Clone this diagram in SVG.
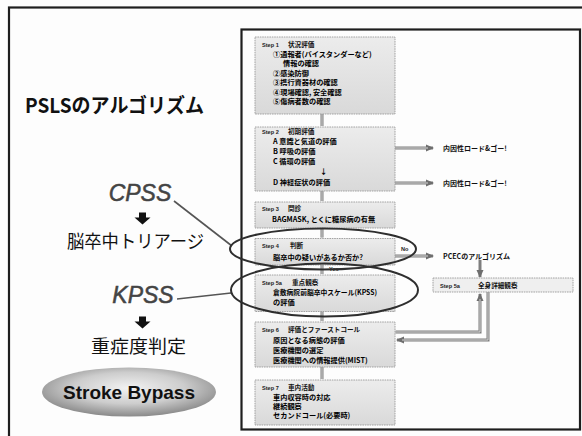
<svg xmlns="http://www.w3.org/2000/svg" width="582" height="436" viewBox="0 0 582 436">
<defs>
<style>
.frame{fill:none;stroke:#1e1e1e;stroke-width:2.2}
.box{fill:url(#boxg);stroke:#9a9a9a;stroke-width:0.9;stroke-dasharray:1.6 0.8}
.st{font-family:"Liberation Sans",Arial,sans-serif;font-size:5.6px;font-weight:bold;fill:#222}
.tt{font-family:"Noto Sans CJK JP","Noto Sans",sans-serif;font-size:6.6px;font-weight:bold;fill:#111}
.it{font-family:"Noto Sans CJK JP","Noto Sans",sans-serif;font-size:7.2px;font-weight:bold;fill:#000}
.lbl{font-family:"Noto Sans CJK JP","Liberation Sans",sans-serif;font-size:7px;font-weight:bold;fill:#111}
.con{fill:none;stroke:#7e7e7e;stroke-width:3}
.coni{fill:none;stroke:#d4d4d4;stroke-width:1}
.lead{fill:none;stroke:#555;stroke-width:1.6}
.ell{fill:none;stroke:#2e2e2e;stroke-width:2}
.big{font-family:"Noto Sans CJK JP","Liberation Sans",sans-serif;font-size:18px;fill:#111}
.abbr{font-family:"Liberation Sans",Arial,sans-serif;font-size:23px;font-style:italic;fill:#444;stroke:#444;stroke-width:0.5}
</style>
<linearGradient id="boxg" x1="0" y1="0" x2="0" y2="1">
<stop offset="0" stop-color="#ececec"/>
<stop offset="1" stop-color="#d9d9d9"/>
</linearGradient>
<radialGradient id="ellg" cx="50%" cy="42%" r="58%">
<stop offset="0" stop-color="#f2f2f2"/>
<stop offset="0.55" stop-color="#cdcdcd"/>
<stop offset="1" stop-color="#8a8a8a"/>
</radialGradient>
<marker id="ah" viewBox="0 0 8 8" refX="7" refY="4" markerWidth="8" markerHeight="8" markerUnits="userSpaceOnUse" orient="auto">
<path d="M0,0.5 L8,4 L0,7.5 z" fill="#6e6e6e"/>
</marker>
</defs>

<rect x="0" y="0" width="582" height="436" fill="#fdfdfd"/>
<rect class="frame" x="9" y="7.5" width="600" height="450"/>
<rect class="frame" x="241.5" y="29.5" width="338.5" height="400" fill="#ffffff"/>

<g id="title">
<text x="25" y="113" font-family="Noto Sans CJK JP,Liberation Sans,sans-serif" font-size="20" font-weight="bold" fill="#111" textLength="179" lengthAdjust="spacingAndGlyphs">PSLSのアルゴリズム</text>
</g>

<g id="connectors">
<path class="con" d="M322,114 V126 M322,191 V201 M322,228 V237.5 M322,265 V274 M322,311.5 V321 M322,367 V379"/>
<path class="coni" d="M322,114 V126 M322,191 V201 M322,228 V237.5 M322,265 V274 M322,311.5 V321 M322,367 V379"/>
<path d="M348,128 H352.5 V167 H348 M352.5,148 H356.5" fill="none" stroke="#555" stroke-width="1"/>
<path class="con" d="M362,148 H433" marker-end="url(#ah)"/>
<path class="coni" d="M362,148 H428"/>
<path class="con" d="M362,183 H433" marker-end="url(#ah)"/>
<path class="coni" d="M362,183 H428"/>
<path class="con" d="M395,256 H433" marker-end="url(#ah)"/>
<path class="coni" d="M395,256 H428"/>
<path class="con" d="M480,260 V277" marker-end="url(#ah)"/>
<path class="con" d="M395.5,332 H480 V294" marker-end="url(#ah)"/>
<path class="coni" d="M395.5,332 H480 V299"/>
<path class="con" d="M488,292 V340 H397" marker-end="url(#ah)"/>
<path class="coni" d="M488,292 V340 H402"/>
<path class="lead" d="M174,201 L232,246"/>
<path class="lead" d="M177,299 L231,293"/>
</g>

<g id="step1">
<rect class="box" x="255" y="37" width="140" height="77"/>
<text class="st" x="262" y="47">Step 1</text>
<text class="tt" x="288" y="47">状況評価</text>
<text class="it" x="273" y="57">①通報者(バイスタンダーなど)</text>
<text class="it" x="283" y="66">情報の確認</text>
<text class="it" x="273" y="75.5">②感染防御</text>
<text class="it" x="273" y="85">③携行資器材の確認</text>
<text class="it" x="273" y="94.5">④現場確認, 安全確認</text>
<text class="it" x="273" y="104">⑤傷病者数の確認</text>
</g>

<g id="step2">
<rect class="box" x="255" y="127" width="140" height="64"/>
<text class="st" x="262" y="134">Step 2</text>
<text class="tt" x="288" y="134">初期評価</text>
<text class="it" x="273" y="144">A 意識と気道の評価</text>
<text class="it" x="273" y="153.5">B 呼吸の評価</text>
<text class="it" x="273" y="164">C 循環の評価</text>
<text class="it" x="320" y="174" font-size="6">↓</text>
<text class="it" x="273" y="185">D 神経症状の評価</text>
</g>

<g id="step3">
<rect class="box" x="255" y="202" width="140" height="26"/>
<text class="st" x="262" y="211">Step 3</text>
<text class="tt" x="288" y="211">問診</text>
<text class="it" x="272" y="222">BAGMASK, とくに糖尿病の有無</text>
</g>

<g id="step4">
<rect class="box" x="255" y="238.5" width="140" height="26.5"/>
<text class="st" x="262" y="248">Step 4</text>
<text class="tt" x="290" y="248">判断</text>
<text class="it" x="273" y="260">脳卒中の疑いがあるか否か?</text>
</g>

<g id="yes">
<text class="st" x="329" y="271">Yes</text>
</g>
<g id="no">
<text class="st" x="401" y="251" font-size="6">No</text>
</g>

<g id="step5a">
<rect class="box" x="255" y="275" width="140" height="36.5"/>
<text class="st" x="262" y="285">Step 5a</text>
<text class="tt" x="292" y="285">重点観察</text>
<text class="it" x="273" y="294.5" textLength="104" lengthAdjust="spacingAndGlyphs">倉敷病院前脳卒中スケール(KPSS)</text>
<text class="it" x="273" y="304.5">の評価</text>
</g>

<g id="step6">
<rect class="box" x="255" y="322" width="140" height="45"/>
<text class="st" x="262" y="332">Step 6</text>
<text class="tt" x="288" y="332">評価とファーストコール</text>
<text class="it" x="273" y="343">原因となる病態の評価</text>
<text class="it" x="273" y="353">医療機関の選定</text>
<text class="it" x="273" y="363">医療機関への情報提供(MIST)</text>
</g>

<g id="step7">
<rect class="box" x="255" y="380" width="140" height="45"/>
<text class="st" x="262" y="390">Step 7</text>
<text class="tt" x="288" y="390">車内活動</text>
<text class="it" x="273" y="399.5">車内収容時の対応</text>
<text class="it" x="273" y="408.5">継続観察</text>
<text class="it" x="273" y="418">セカンドコール(必要時)</text>
</g>

<g id="step5a-full">
<rect class="box" x="433" y="278" width="140" height="14" style="fill:#efefef"/>
<text class="st" x="440" y="287.5">Step 5a</text>
<text class="tt" x="478" y="287.5">全身詳細観察</text>
</g>

<g id="loadgo1"><text class="lbl" x="443" y="151">内因性ロード&amp;ゴー!</text></g>
<g id="loadgo2"><text class="lbl" x="443" y="186">内因性ロード&amp;ゴー!</text></g>
<g id="pcec"><text class="lbl" x="443" y="259">PCECのアルゴリズム</text></g>

<g id="ellipse-cpss"><ellipse class="ell" cx="323" cy="249" rx="93" ry="20.5"/></g>
<g id="ellipse-kpss"><ellipse class="ell" cx="324.5" cy="290" rx="93.5" ry="26.5"/></g>

<g id="cpss">
<text class="abbr" x="140" y="201" text-anchor="middle">CPSS</text>
<path d="M139,212.5 h7 v5 h4.5 l-8,7 l-8,-7 h4.5 z" fill="#111"/>
<text class="big" x="135.5" y="248" text-anchor="middle" textLength="137" lengthAdjust="spacingAndGlyphs">脳卒中トリアージ</text>
</g>

<g id="kpss">
<text class="abbr" x="143" y="303" text-anchor="middle">KPSS</text>
<path d="M139,316.5 h7 v5 h4.5 l-8,7 l-8,-7 h4.5 z" fill="#111"/>
<text class="big" x="138.5" y="353" text-anchor="middle" textLength="95" lengthAdjust="spacingAndGlyphs">重症度判定</text>
</g>

<g id="stroke-bypass">
<ellipse cx="129" cy="392" rx="87" ry="24.5" fill="url(#ellg)"/>
<text x="129" y="398.5" text-anchor="middle" font-family="Liberation Sans,Arial,sans-serif" font-size="19" font-weight="bold" fill="#111">Stroke Bypass</text>
</g>
</svg>
